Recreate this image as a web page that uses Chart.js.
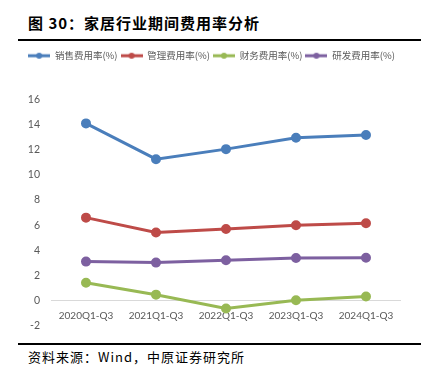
<!DOCTYPE html>
<html>
<head>
<meta charset="utf-8">
<script src="https://cdn.jsdelivr.net/npm/chart.js@4"></script>
<style>
  body { margin: 0; background: #fff; }
  #wrap { position: relative; width: 423px; height: 375px; overflow: hidden; }
  #title { position: absolute; left: 28px; top: 12px; font: bold 15px "Noto Sans CJK SC", sans-serif; letter-spacing: 1px; color: #000; white-space: nowrap; }
  .rule { position: absolute; left: 18px; width: 403px; height: 2px; background: #000; }
  #source { position: absolute; left: 28px; top: 347px; font: 13px "Noto Sans CJK SC", sans-serif; letter-spacing: 1px; color: #000; white-space: nowrap; }
  #box { position: absolute; left: 0; top: 45px; width: 423px; height: 298px; }
</style>
</head>
<body>
<div id="wrap">
  <div id="title">图 30：家居行业期间费用率分析</div>
  <div class="rule" style="top:39px"></div>
  <div id="box"><canvas id="expenseChart"></canvas></div>
  <div class="rule" style="top:343px"></div>
  <div id="source">资料来源：Wind，中原证券研究所</div>
</div>
<script>
// periods and expense ratios (%)
const periods = ["2020Q1-Q3", "2021Q1-Q3", "2022Q1-Q3", "2023Q1-Q3", "2024Q1-Q3"];
const sellingRate = [14.1, 11.25, 12.05, 12.95, 13.18];
const adminRate = [6.6, 5.41, 5.7, 5.99, 6.15];
const financeRate = [1.42, 0.47, -0.63, 0.02, 0.32];
const rndRate = [3.1, 3.02, 3.21, 3.39, 3.41];
const seriesNames = ["销售费用率(%)", "管理费用率(%)", "财务费用率(%)", "研发费用率(%)"];
const seriesColors = ["#4A7EBB", "#BE4B48", "#98B954", "#7D60A0"];
const yTicks = [-2, 0, 2, 4, 6, 8, 10, 12, 14, 16];

const tickFont = "Lato, 'Liberation Sans', sans-serif";

// legend marker: short line with a dot, like the Excel legend
function legendMarker(color) {
  const c = document.createElement("canvas");
  c.width = 22;
  c.height = 8;
  const g = c.getContext("2d");
  g.strokeStyle = color;
  g.lineWidth = 3;
  g.beginPath();
  g.moveTo(0, 4);
  g.lineTo(22, 4);
  g.stroke();
  g.fillStyle = color;
  g.beginPath();
  g.arc(11, 4, 3, 0, Math.PI * 2);
  g.fill();
  return c;
}

// leave a gap between legend and plot
const legendGap = {
  id: "legendGap",
  beforeInit(chart) {
    const fit = chart.legend.fit;
    chart.legend.fit = function () {
      fit.bind(chart.legend)();
      this.height += 29;
    };
  },
};

const allValues = [sellingRate, adminRate, financeRate, rndRate];
const datasets = allValues.map((vals, i) => ({
  label: seriesNames[i],
  data: vals,
  borderColor: seriesColors[i],
  backgroundColor: seriesColors[i],
  borderWidth: 3,
  pointRadius: 3.5,
  pointHoverRadius: 3.5,
  pointStyle: "circle",
  tension: 0,
}));

const ctx = document.getElementById("expenseChart").getContext("2d");
window.expenseChart = new Chart(ctx, {
  type: "line",
  data: { labels: periods, datasets: datasets },
  plugins: [legendGap],
  options: {
    responsive: true,
    maintainAspectRatio: false,
    animation: false,
    layout: { padding: { top: 3, right: 0, bottom: 1, left: 0 } },
    scales: {
      x: {
        position: { y: 0 },
        offset: true,
        grid: { display: false },
        border: { display: false },
        ticks: {
          padding: 1,
          color: "#595959",
          font: { family: tickFont, size: 10 },
          maxRotation: 0,
        },
      },
      y: {
        min: -2,
        max: 16,
        afterBuildTicks: (scale) => {
          scale.ticks = yTicks.map((v) => ({ value: v }));
        },
        afterFit: (scale) => {
          scale.width = 51;
        },
        grid: {
          drawTicks: false,
          color: (c) => (c.tick && c.tick.value === 0 ? "#D9D9D9" : "rgba(0,0,0,0)"),
        },
        border: { display: false },
        ticks: {
          padding: 11,
          color: "#595959",
          font: { family: tickFont, size: 10.5 },
        },
      },
      // empty right axis, only reserves the margin on the right
      yRight: {
        position: "right",
        display: true,
        grid: { display: false },
        border: { display: false },
        ticks: { display: false },
        afterFit: (scale) => {
          scale.width = 22;
        },
      },
    },
    plugins: {
      legend: {
        display: true,
        position: "top",
        labels: {
          usePointStyle: true,
          pointStyleWidth: 22,
          padding: 3,
          color: "#595959",
          font: { family: "'Noto Sans CJK SC', sans-serif", size: 9.5 },
          generateLabels: (chart) =>
            chart.data.datasets.map((ds, i) => ({
              text: ds.label,
              pointStyle: legendMarker(seriesColors[i]),
              fillStyle: seriesColors[i],
              strokeStyle: seriesColors[i],
              fontColor: "#595959",
              lineWidth: 0,
              datasetIndex: i,
            })),
        },
      },
      tooltip: { enabled: false },
    },
  },
});
</script>
</body>
</html>
